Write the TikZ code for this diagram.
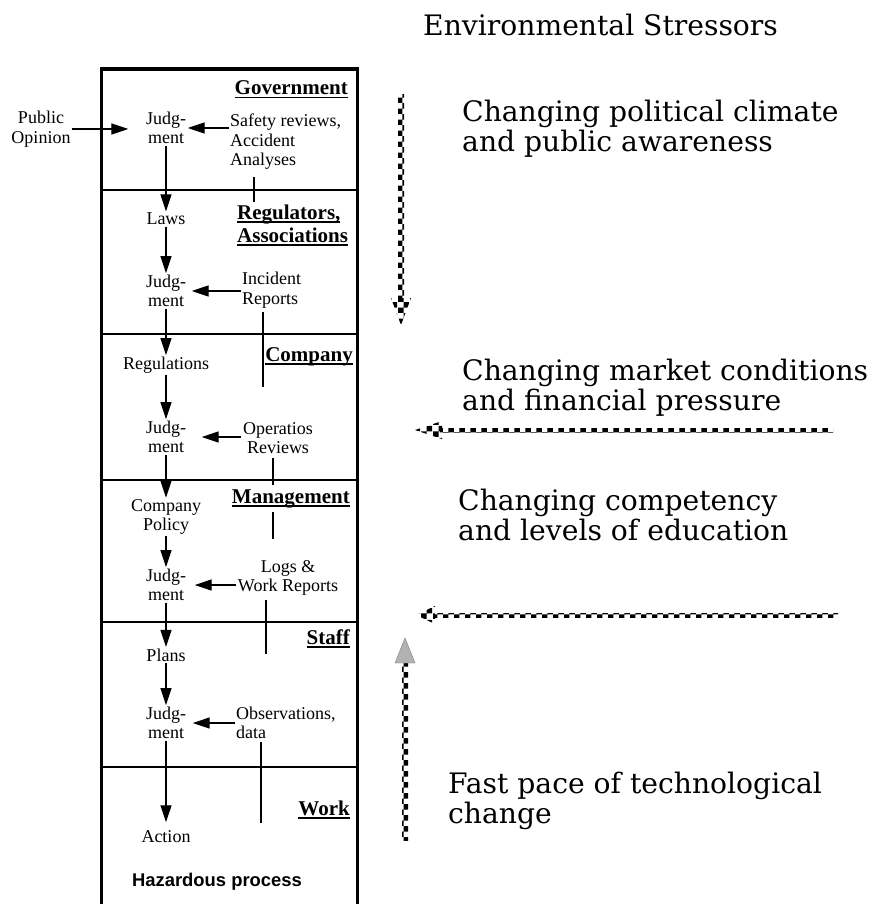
\documentclass[tikz,border=0pt]{standalone}
\usepackage{fontspec}
\setmainfont{Liberation Serif}
\newfontfamily\stressfont{DejaVu Serif}
\newfontfamily\procfont{Liberation Sans}
\usetikzlibrary{arrows.meta,patterns}

\newcommand{\ulbf}[1]{\setbox0\hbox{\bfseries #1}\rlap{\rule[-3.5pt]{\wd0}{1.6pt}}\box0}

\tikzset{
  txt/.style={font=\fontsize{18}{19.5}\selectfont, inner sep=1.5pt, align=center},
  layerlbl/.style={font=\fontsize{21}{23}\selectfont, inner sep=0pt, align=left},
  arr/.style={line width=1.2pt, -{Triangle[length=17pt,width=11pt]}},
  fb/.style={line width=1.2pt},
  layer/.style={line width=1.4pt},
  stress/.style={font=\stressfont\fontsize{28.2}{29.5}\selectfont, inner sep=0pt, align=left},
}

\begin{document}
\begin{tikzpicture}[x=1pt,y=-1pt]
    \useasboundingbox (0,0) rectangle (868,904);
    % the box with its layers
    \draw [line width=3.2pt] (101.5,904) -- (101.5,69) -- (357.5,69) -- (357.5,904);
    \foreach \y in {190,334,480,622,767}
      \draw [layer] (101.5,\y) -- (357.5,\y);

    % layer names
    \node[layerlbl, anchor=base east] (gov) at (348,95) {\ulbf{Government}};
    \node[layerlbl, anchor=north west] (reg) at (237,204.5) {\ulbf{Regulators,}\\\ulbf{Associations}};
    \node[layerlbl, anchor=base east] (comp) at (353,361) {\ulbf{Company}};
    \node[layerlbl, anchor=base east] (mgmt) at (350,503) {\ulbf{Management}};
    \node[layerlbl, anchor=base east] (staff) at (350,644) {\ulbf{Staff}};
    \node[layerlbl, anchor=base east] (work) at (350,815) {\ulbf{Work}};

    % decisions down the left
    \node[txt] (pub) at (41,129) {Public\\Opinion};
    \node[txt] (jg1) at (166,128) {Judg-\\ment};
    \node[txt] (laws) at (166,219) {Laws};
    \node[txt] (jg2) at (166,291) {Judg-\\ment};
    \node[txt] (regs) at (166,365) {Regulations};
    \node[txt] (jg3) at (166,437) {Judg-\\ment};
    \node[txt] (policy) at (166,517) {Company\\Policy};
    \node[txt] (jg4) at (166,585) {Judg-\\ment};
    \node[txt] (plans) at (166,655) {Plans};
    \node[txt] (jg5) at (166,723) {Judg-\\ment};
    \node[txt] (action) at (166,837) {Action};
    \node[font=\procfont\bfseries\fontsize{18.4}{20}\selectfont] (haz) at (217,882) {Hazardous process};

    % feedback on the right
    \node[txt, align=left, anchor=west] (safety) at (228.5,142) {Safety reviews,\\Accident\\Analyses};
    \node[txt, align=left, anchor=west] (incid) at (240.5,290) {Incident\\Reports};
    \node[txt] (opsrev) at (278,438) {Operatios\\Reviews};
    \node[txt] (logs) at (288,578) {Logs \&\\Work Reports};
    \node[txt, align=left, anchor=west] (obs) at (234.5,723) {Observations,\\data};

    % arrows
    \draw[arr, shorten >=16pt] (pub.east) -- (pub.east -| jg1.west);
    \draw[arr] (jg1.east -| safety.west) -- (jg1.east);
    \draw[arr] (jg1) -- (laws);
    \draw[arr] (laws) -- (jg2);
    \draw[arr, shorten >=4pt] (jg2.east -| incid.west) -- (jg2.east);
    \draw[arr] (jg2) -- (regs);
    \draw[arr] (regs) -- (jg3);
    \draw[arr, shorten >=14pt] (jg3.east -| opsrev.west) -- (jg3.east);
    \draw[arr] (jg3) -- (policy);
    \draw[arr] (policy) -- (jg4);
    \draw[arr, shorten >=7pt] (jg4.east -| logs.west) -- (jg4.east);
    \draw[arr] (jg4) -- (plans);
    \draw[arr] (plans) -- (jg5);
    \draw[arr, shorten >=5pt] (jg5.east -| obs.west) -- (jg5.east);
    \draw[arr, shorten >=7pt] (jg5) -- (action);

    % reports going up
    \coordinate (fb1a) at (254,177); \coordinate (fb1b) at (254,202);
    \coordinate (fb2a) at (263,312); \coordinate (fb2b) at (263,387);
    \coordinate (fb3a) at (273,458); \coordinate (fb3b) at (273,485);
    \coordinate (fb3c) at (273,512); \coordinate (fb3d) at (273,539);
    \coordinate (fb4a) at (266,600); \coordinate (fb4b) at (266,654);
    \coordinate (fb5a) at (261,742); \coordinate (fb5b) at (261,823);
    \draw[fb] (fb1a) -- (fb1b);
    \draw[fb] (fb2a) -- (fb2b);
    \draw[fb] (fb3a) -- (fb3b);
    \draw[fb] (fb3c) -- (fb3d);
    \draw[fb] (fb4a) -- (fb4b);
    \draw[fb] (fb5a) -- (fb5b);

    % environmental stressors
    \node[stress, anchor=base west] (envs) at (423,36) {Environmental Stressors};
    \node[stress, anchor=north west] (polit) at (462,100) {Changing political climate\\and public awareness};
    \node[stress, anchor=north west] (market) at (462,359) {Changing market conditions\\and financial pressure};
    \node[stress, anchor=north west] (educ) at (458,489) {Changing competency\\and levels of education};
    \node[stress, anchor=north west] (tech) at (448,772) {Fast pace of technological\\change};

    \fill[pattern=checkerboard] (398,95) rectangle (404,299);
    \fill[pattern=checkerboard] (391,298) -- (411,298) -- (401,325) -- cycle;
    \fill[pattern=checkerboard] (440,428) rectangle (833,432);
    \fill[pattern=checkerboard] (442,421) -- (442,439) -- (415,430) -- cycle;
    \fill[pattern=checkerboard] (433,613) rectangle (838,617);
    \fill[pattern=checkerboard] (435,606) -- (435,624) -- (416,615) -- cycle;
    \fill[pattern=checkerboard] (402,663) rectangle (408,840);
    \filldraw[fill=gray!60, draw=gray] (395,663) -- (415,663) -- (405,638) -- cycle;
\end{tikzpicture}
\end{document}
